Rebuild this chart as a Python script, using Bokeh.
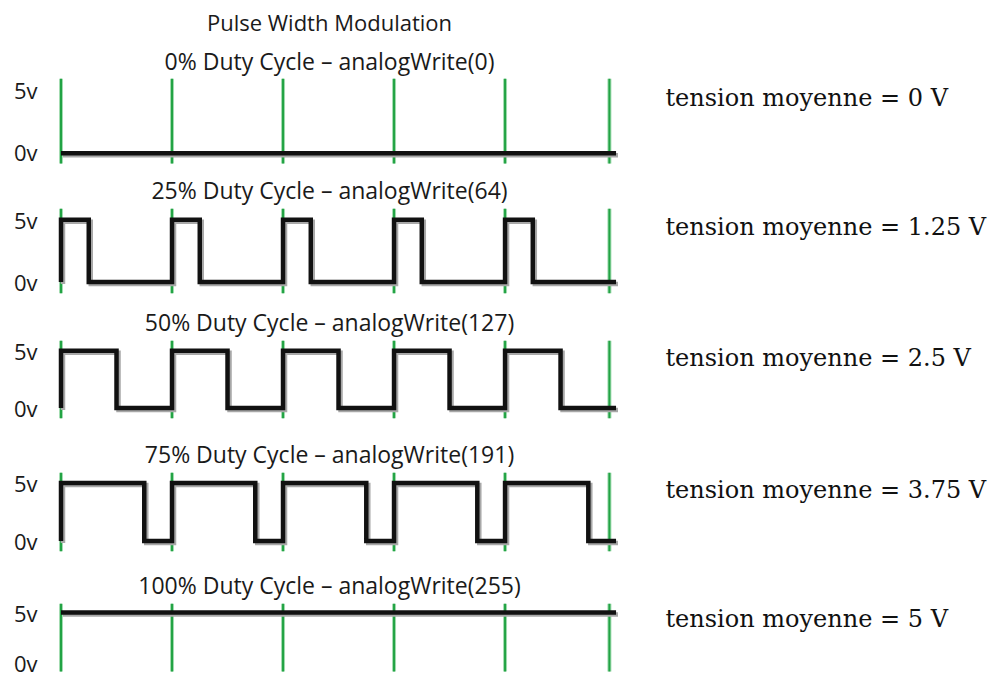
from bokeh.plotting import figure
from bokeh.layouts import column, row
from bokeh.models import Range1d, Title, Label
from bokeh.embed import file_html
from bokeh.resources import INLINE

# ---------------- data ----------------
main_title = "Pulse Width Modulation"
duty_pct = [0, 25, 50, 75, 100]
analog_values = [0, 64, 127, 191, 255]
mean_voltage = ["0", "1.25", "2.5", "3.75", "5"]
v_high = 5
n_periods = 5
period_markers = [0, 1, 2, 3, 4, 4.94]
y_ticks = [0, 5]
y_tick_labels = {0: "0v", 5: "5v"}

# ---------------- layout / style ----------------
PX_PER_PERIOD = 111
LEFT = 40
FRAME_W = 578
RIGHT_W = 372
frame_h = [85, 86, 79, 80, 75]
mb_top = [76, 42, 42, 42, 42]
mb_bottom = [3, 4, 11, 9, 0]
y_lo = [-0.8, -1, -1, -1, -1.6]
y_hi = 5.9
x0, x1 = -0.1847, 5.022
marker_lo, marker_hi = -0.9, 5.9
SANS = "Open Sans"
SERIF = "DejaVu Serif"
TXT = "#1a1a1a"


def wave(d):
    f = d / 100.0
    if f <= 0 or f >= 1:
        lvl = v_high * f
        return [0, n_periods], [lvl, lvl]
    xs, ys = [], []
    for k in range(n_periods):
        xs += [k, k, k + f, k + f]
        ys += [0, v_high, v_high, 0]
    xs.append(n_periods)
    ys.append(0)
    return xs, ys


def base_fig(fw, fh, xr, i, left):
    p = figure(frame_width=fw, frame_height=fh, x_range=xr,
               y_range=Range1d(y_lo[i], y_hi), x_axis_type=None,
               toolbar_location=None, output_backend="svg",
               min_border_left=left, min_border_right=0,
               min_border_top=mb_top[i], min_border_bottom=mb_bottom[i])
    p.outline_line_color = None
    p.grid.visible = False
    p.background_fill_color = "white"
    p.border_fill_color = "white"
    return p


rows = []
for i, d in enumerate(duty_pct):
    fh = frame_h[i]
    p = base_fig(FRAME_W, fh, Range1d(x0, x1), i, LEFT)

    ax = p.yaxis[0]
    ax.ticker = y_ticks
    ax.major_label_overrides = y_tick_labels
    ax.axis_line_color = None
    ax.major_tick_line_color = None
    ax.minor_tick_line_color = None
    ax.major_tick_out = 0
    ax.major_tick_in = 0
    ax.major_label_standoff = 3
    ax.major_label_text_font = SANS
    ax.major_label_text_font_size = "22px"
    ax.major_label_text_color = TXT

    sub = f"{d}% Duty Cycle \u2013 analogWrite({analog_values[i]})"
    if i == 0:
        p.title.text = main_title
        p.title.standoff = 8
        p.title.text_font_size = "22px"
        p.add_layout(Title(text=sub, align="center", text_font=SANS,
                           text_font_size="23px", text_font_style="normal",
                           text_color=TXT, standoff=4), "above")
    else:
        p.title.text = sub
        p.title.standoff = 6
        p.title.text_font_size = "23px"
    p.title.align = "center"
    p.title.text_font = SANS
    p.title.text_font_style = "normal"
    p.title.text_color = TXT

    # period markers (green)
    for mx in period_markers:
        p.segment(x0=mx, y0=marker_lo, x1=mx, y1=marker_hi,
                  line_color="#a3dcb1", line_width=4)
        p.segment(x0=mx, y0=marker_lo, x1=mx, y1=marker_hi,
                  line_color="#22a344", line_width=2)

    xs, ys = wave(d)
    # shadow via shifted ranges (2px right/down)
    dx = 2 * (x1 - x0) / FRAME_W
    dy = 2 * (y_hi - y_lo[i]) / fh
    p.extra_x_ranges = {"sh": Range1d(x0 - dx, x1 - dx)}
    p.extra_y_ranges = {"sh": Range1d(y_lo[i] + dy, y_hi + dy)}
    p.line(xs, ys, x_range_name="sh", y_range_name="sh",
           line_color="#a8a8a8", line_width=4.5, line_join="miter")
    p.line(xs, ys, line_color="#111111", line_width=4.5, line_join="miter")

    # right-hand panel with the mean voltage
    q = base_fig(RIGHT_W, fh, Range1d(x1, x1 + RIGHT_W / PX_PER_PERIOD), i, 0)
    q.yaxis.visible = False
    q.add_layout(Label(x=5.445, y=4.4, text=f"tension moyenne = {mean_voltage[i]} V",
                       text_font=SERIF, text_font_size="24px", text_color="#111111",
                       text_baseline="middle", text_align="left"))
    rows.append(row(p, q, spacing=0))

layout = column(*rows, spacing=0)
open("out.html", "w").write(file_html(layout, INLINE))
